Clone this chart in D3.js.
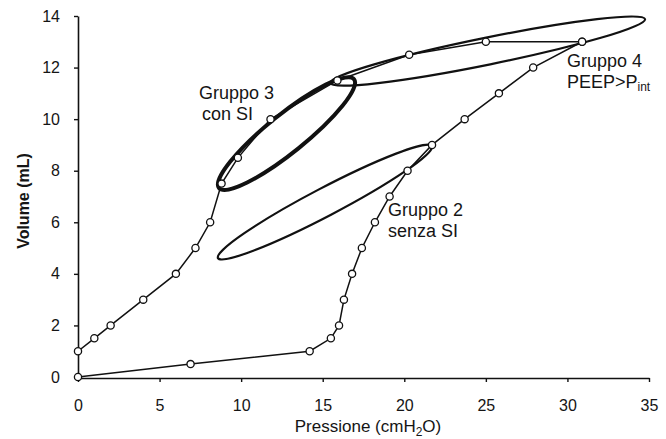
<!DOCTYPE html>
<html lang="it">
<head>
  <meta charset="utf-8">
  <title>Volume - Pressione</title>
  <script src="https://cdn.jsdelivr.net/npm/d3@7/dist/d3.min.js"></script>
  <style type="text/css">
    body { margin: 0; background: #fff; }
    text { font-family: "Liberation Sans", Arial, sans-serif; fill: #151515; }
  </style>
</head>
<body>
<script type="text/javascript">

var width = 666;
var height = 439;

// curve with SI (upper branch)
var upperP = [0, 1, 2, 4, 6, 7.2, 8.1, 8.8, 9.8, 11.8, 15.9, 20.3, 25, 30.9];
var upperV = [1, 1.5, 2, 3, 4, 5, 6, 7.5, 8.5, 10, 11.5, 12.5, 13, 13];

// curve without SI (lower branch)
var lowerP = [0, 6.9, 14.2, 15.5, 16.0, 16.3, 16.8, 17.4, 18.2, 19.1, 20.2, 21.7, 23.7, 25.8, 27.9, 30.9];
var lowerV = [0, 0.5, 1, 1.5, 2, 3, 4, 5, 6, 7, 8, 9, 10, 11, 12, 13];

var xTicks = [0, 5, 10, 15, 20, 25, 30, 35];
var yTicks = [0, 2, 4, 6, 8, 10, 12, 14];

// group ellipses: ends of the long axis, in data units
var groupNames = ["Gruppo 2", "Gruppo 3", "Gruppo 4"];
var groupEnds = [
  [[8.58, 4.61], [21.70, 8.96]],
  [[8.64, 7.33], [16.92, 11.55]],
  [[15.45, 11.40], [34.76, 13.88]]
];
var groupSub = ["senza SI", "con SI", "PEEP>P"];
var groupLabelAt = [[19.0, 6.24], [7.42, 10.78], [29.97, 12.02]];

var svg = d3.select("body")
  .append("svg")
  .attr("width", width)
  .attr("height", height);

var x = d3.scaleLinear().domain([0, 35]).range([78, 649]);
var y = d3.scaleLinear().domain([0, 14]).range([377, 16]);

// axes
var xAxis = svg.append("g")
  .attr("transform", "translate(0," + 378 + ")")
  .call(d3.axisBottom(x).tickValues(xTicks).tickSize(4).tickSizeOuter(0).tickPadding(18));
var yAxis = svg.append("g")
  .attr("transform", "translate(" + 78 + ",0)")
  .call(d3.axisLeft(y).tickValues(yTicks).tickSize(4).tickSizeOuter(0).tickPadding(14));

[xAxis, yAxis].forEach(function(a){
  a.select(".domain").attr("stroke", "#111").attr("stroke-width", 1.6);
  a.selectAll(".tick line").attr("stroke", "#111").attr("stroke-width", 1.4);
  a.selectAll(".tick text")
    .attr("font-size", 16)
    .attr("font-family", "Liberation Sans, Arial, sans-serif")
    .attr("fill", "#222");
});

// ellipses
groupEnds.forEach(function(e, i){
  var x1 = x(e[0][0]), y1 = y(e[0][1]), x2 = x(e[1][0]), y2 = y(e[1][1]);
  var cx = (x1 + x2) / 2, cy = (y1 + y2) / 2;
  var rx = Math.sqrt((x2 - x1) * (x2 - x1) + (y2 - y1) * (y2 - y1)) / 2;
  var ang = Math.atan2(y2 - y1, x2 - x1) * 180 / Math.PI;
  var ry = [14, 19, 13.5][i];
  svg.append("ellipse")
    .attr("transform", "translate(" + cx + "," + cy + ") rotate(" + ang + ")")
    .attr("rx", rx)
    .attr("ry", ry)
    .attr("fill", "none")
    .attr("stroke", "#111")
    .attr("stroke-width", i == 1 ? 4 : 2.2);
});

// curves
var line = d3.line().x(function(d){ return x(d[0]); }).y(function(d){ return y(d[1]); });
var upper = upperP.map(function(p, i){ return [p, upperV[i]]; });
var lower = lowerP.map(function(p, i){ return [p, lowerV[i]]; });

[upper, lower].forEach(function(pts){
  svg.append("path")
    .datum(pts)
    .attr("d", line)
    .attr("fill", "none")
    .attr("stroke", "#111")
    .attr("stroke-width", 1.5);
});

[upper, lower].forEach(function(pts){
  svg.selectAll(null)
    .data(pts)
    .enter()
    .append("circle")
    .attr("cx", function(d){ return x(d[0]); })
    .attr("cy", function(d){ return y(d[1]); })
    .attr("r", 3.6)
    .attr("fill", "#fff")
    .attr("stroke", "#111")
    .attr("stroke-width", 1.3);
});

// group labels
groupNames.forEach(function(name, i){
  var t = svg.append("text")
    .attr("x", x(groupLabelAt[i][0]))
    .attr("y", y(groupLabelAt[i][1]))
    .attr("font-size", 18);
  t.append("tspan").text(name);
  t.append("tspan")
    .attr("x", x(groupLabelAt[i][0]) + (i == 1 ? 3 : 0))
    .attr("dy", 20.5)
    .text(groupSub[i]);
  if (i == 2) {
    t.append("tspan").attr("font-size", 12).attr("dy", 3).text("int");
  }
});

// axis titles
svg.append("text")
  .attr("transform", "translate(25,201) rotate(-90)")
  .attr("text-anchor", "middle")
  .attr("dominant-baseline", "middle")
  .attr("font-size", 16)
  .attr("font-weight", "bold")
  .text("Volume (mL)");

var xt = svg.append("text")
  .attr("x", 368)
  .attr("y", 432)
  .attr("text-anchor", "middle")
  .attr("font-size", 17);
xt.append("tspan").text("Pressione (cmH");
xt.append("tspan").attr("font-size", 12).attr("dy", 4).text("2");
xt.append("tspan").attr("dy", -4).text("O)");

</script>
</body>
</html>
